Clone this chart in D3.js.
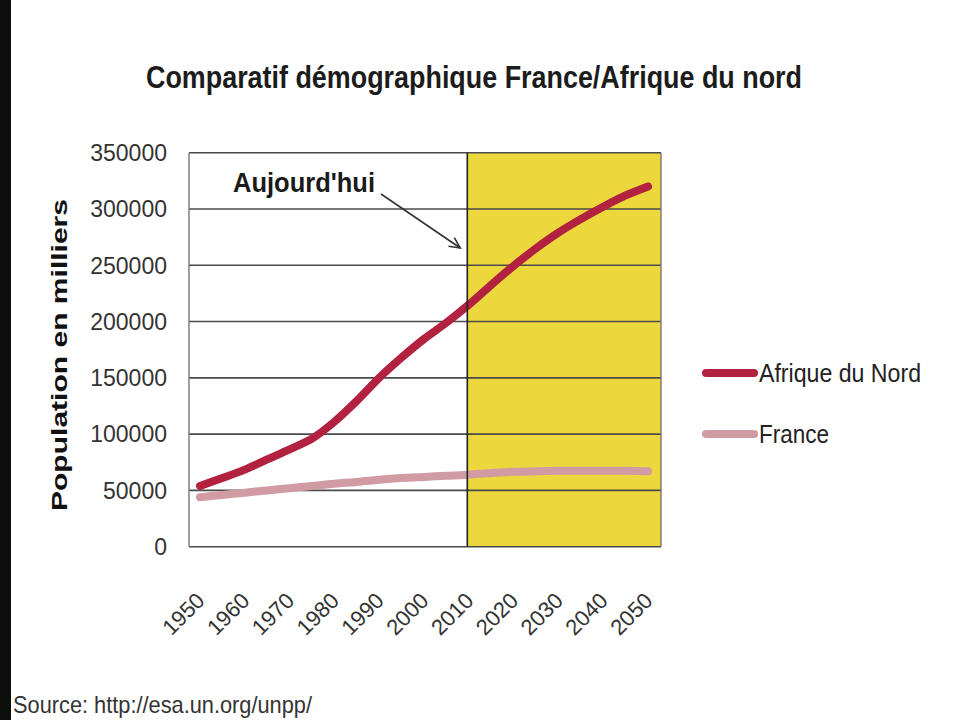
<!DOCTYPE html>
<html>
<head>
<meta charset="utf-8">
<script src="https://cdn.jsdelivr.net/npm/d3@7/dist/d3.min.js"></script>
<style>
  html, body { margin: 0; padding: 0; background: #fff; }
  svg { display: block; }
  text { font-family: "Liberation Sans", Arial, sans-serif; }
</style>
</head>
<body>
<svg id="chart" width="960" height="720"></svg>
<script>
// ---- data ----
const years = [1950, 1955, 1960, 1965, 1970, 1975, 1980, 1985, 1990, 1995, 2000,
               2005, 2010, 2015, 2020, 2025, 2030, 2035, 2040, 2045, 2050];
const afriqueDuNord = [54000, 61000, 68500, 77500, 86500, 96000, 111000, 129500, 150000, 168000, 184500,
                       199000, 215000, 232500, 249500, 265000, 279000, 291000, 302000, 312000, 320000];
const france = [44000, 46000, 48000, 50000, 52000, 54000, 56000, 57500, 59500, 61000, 62000,
                63000, 64000, 65500, 66500, 67000, 67500, 67500, 67500, 67500, 67000];
const xTickLabels = ["1950", "1960", "1970", "1980", "1990", "2000", "2010", "2020", "2030", "2040", "2050"];
const yTicks = [0, 50000, 100000, 150000, 200000, 250000, 300000, 350000];
const seriesNames = ["Afrique du Nord", "France"];
const todayYear = 2010;
const titleText = "Comparatif démographique France/Afrique du nord";
const yAxisTitle = "Population en milliers";
const annotationText = "Aujourd'hui";
const sourceText = "Source: http://esa.un.org/unpp/";

// ---- layout ----
const svg = d3.select("#chart");
const plot = { left: 189, right: 661, top: 152.7, bottom: 546.7 };
const x = d3.scaleLinear().domain([1950, 2050]).range([200, 648]);
const y = d3.scaleLinear().domain([0, 350000]).range([plot.bottom, plot.top]);
const colors = ["#b2213f", "#d09ba3"];

// left dark frame band
svg.append("rect").attr("x", 0).attr("y", 0).attr("width", 11).attr("height", 720).attr("fill", "#0c0f0c");

// title
svg.append("text")
  .attr("x", 474).attr("y", 88)
  .attr("text-anchor", "middle")
  .attr("font-size", 32).attr("font-weight", "bold").attr("fill", "#1c1c1c")
  .attr("textLength", 656).attr("lengthAdjust", "spacingAndGlyphs")
  .text(titleText);

// yellow future zone
const xToday = x(todayYear) - 1.5;
svg.append("rect")
  .attr("x", xToday).attr("y", plot.top)
  .attr("width", plot.right - xToday).attr("height", plot.bottom - plot.top)
  .attr("fill", "#ecd73c");

// gridlines
svg.append("g").selectAll("line").data(yTicks).join("line")
  .attr("x1", plot.left).attr("x2", plot.right)
  .attr("y1", d => y(d)).attr("y2", d => y(d))
  .attr("stroke", "#4a4a4a").attr("stroke-width", 1.6);

// plot border sides
svg.append("line").attr("x1", plot.left).attr("x2", plot.left).attr("y1", plot.top).attr("y2", plot.bottom)
  .attr("stroke", "#777").attr("stroke-width", 1.4);
svg.append("line").attr("x1", plot.right).attr("x2", plot.right).attr("y1", plot.top).attr("y2", plot.bottom)
  .attr("stroke", "#777").attr("stroke-width", 1.4);

// y tick labels
svg.append("g").selectAll("text").data(yTicks).join("text")
  .attr("x", 167).attr("y", d => y(d)).attr("dy", "0.36em")
  .attr("text-anchor", "end").attr("font-size", 23).attr("fill", "#333")
  .text(d => d3.format("d")(d));

// y axis title
svg.append("text")
  .attr("transform", "translate(67,355) rotate(-90)")
  .attr("text-anchor", "middle")
  .attr("font-size", 22).attr("font-weight", "bold").attr("fill", "#111")
  .attr("textLength", 312).attr("lengthAdjust", "spacingAndGlyphs")
  .text(yAxisTitle);

// x tick labels
svg.append("g").selectAll("text").data(xTickLabels).join("text")
  .attr("transform", d => `translate(${x(+d) + 6},602) rotate(-45)`)
  .attr("text-anchor", "end").attr("font-size", 22).attr("fill", "#333")
  .text(d => d);

// lines
const line = d3.line().x((d, i) => x(years[i])).y(d => y(d)).curve(d3.curveCatmullRom.alpha(0.5));
svg.append("path").datum(france)
  .attr("d", line).attr("fill", "none").attr("stroke", colors[1])
  .attr("stroke-width", 8).attr("stroke-linecap", "round").attr("stroke-linejoin", "round");
svg.append("path").datum(afriqueDuNord)
  .attr("d", line).attr("fill", "none").attr("stroke", colors[0])
  .attr("stroke-width", 8).attr("stroke-linecap", "round").attr("stroke-linejoin", "round");

// today vertical line
svg.append("line")
  .attr("x1", xToday).attr("x2", xToday)
  .attr("y1", plot.top).attr("y2", plot.bottom)
  .attr("stroke", "#222").attr("stroke-width", 1.6);

// annotation
svg.append("text")
  .attr("x", 233).attr("y", 192)
  .attr("font-size", 27).attr("font-weight", "bold").attr("fill", "#1a1a1a")
  .attr("textLength", 142).attr("lengthAdjust", "spacingAndGlyphs")
  .text(annotationText);
const ax0 = 381, ay0 = 194, ax1 = xToday - 7, ay1 = 248;
svg.append("line").attr("x1", ax0).attr("y1", ay0).attr("x2", ax1).attr("y2", ay1)
  .attr("stroke", "#333").attr("stroke-width", 1.6);
const ang = Math.atan2(ay1 - ay0, ax1 - ax0);
const hl = 12, ha = Math.PI / 7;
svg.append("path")
  .attr("d", `M${ax1 - hl * Math.cos(ang - ha)},${ay1 - hl * Math.sin(ang - ha)} L${ax1},${ay1} L${ax1 - hl * Math.cos(ang + ha)},${ay1 - hl * Math.sin(ang + ha)}`)
  .attr("fill", "none").attr("stroke", "#333").attr("stroke-width", 1.6);

// legend
const legend = svg.append("g").selectAll("g").data(seriesNames).join("g")
  .attr("transform", (d, i) => `translate(0,${i === 0 ? 373 : 434})`);
legend.append("line")
  .attr("x1", 706).attr("x2", 754).attr("y1", 0).attr("y2", 0)
  .attr("stroke", (d, i) => colors[i]).attr("stroke-width", 8).attr("stroke-linecap", "round");
legend.append("text")
  .attr("x", 759).attr("y", 0).attr("dy", "0.36em")
  .attr("font-size", 26).attr("fill", "#222")
  .attr("textLength", (d, i) => i === 0 ? 162 : 70).attr("lengthAdjust", "spacingAndGlyphs")
  .text(d => d);

// source
svg.append("text")
  .attr("x", 13).attr("y", 713)
  .attr("font-size", 24).attr("fill", "#333")
  .attr("textLength", 299).attr("lengthAdjust", "spacingAndGlyphs")
  .text(sourceText);
</script>
</body>
</html>
